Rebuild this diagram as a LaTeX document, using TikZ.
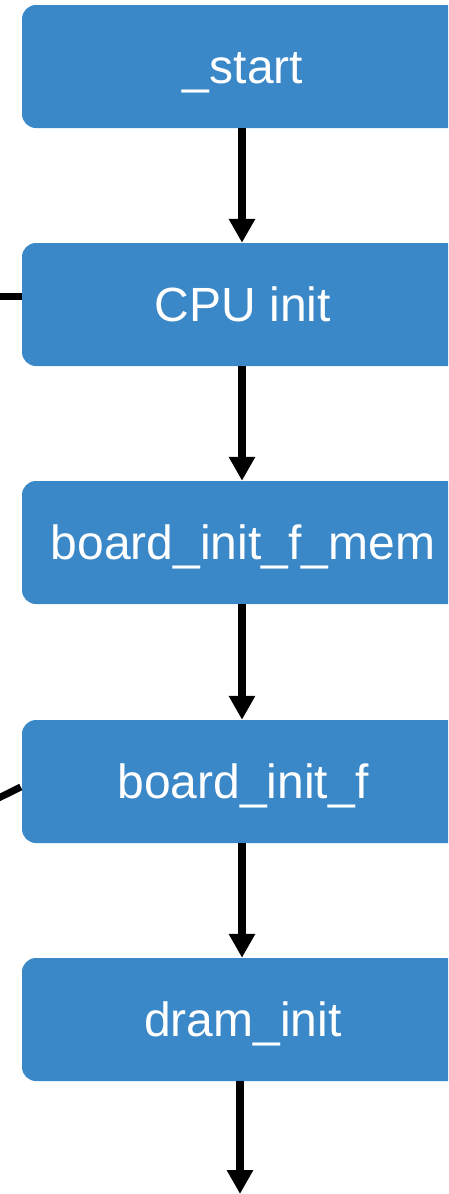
\documentclass[tikz,border=0pt]{standalone}
\usepackage{fontspec}
\setmainfont{Liberation Sans}
\usetikzlibrary{arrows.meta}
\definecolor{boxblue}{RGB}{59,136,200}
\tikzset{
  stagebox/.style={draw=none, fill=boxblue, rounded corners=14pt,
    minimum width=442pt, minimum height=123pt, inner sep=0pt,
    text height=33pt, text depth=0pt,
    text=white, font=\fontsize{48}{48}\selectfont},
  flow/.style={line width=8pt, -{Triangle[width=25pt,length=24pt]}},
  stub/.style={line width=7pt}
}
\begin{document}
\begin{tikzpicture}[x=1pt,y=-1pt]
  \useasboundingbox (0,0) rectangle (448,1194);
  \clip (0,0) rectangle (448,1194);
  % boot stages
  \node[stagebox] (start)   at (243,66.5)   {\_start};
  \node[stagebox] (cpu)     at (243,304.5)  {CPU init};
  \node[stagebox] (mem)     at (243,542.5)  {board\_init\_f\_mem};
  \node[stagebox] (initf)   at (243,781.5)  {board\_init\_f};
  \node[stagebox] (dram)    at (243,1019.5) {dram\_init};
  % continuation below the last stage
  \coordinate (next) at (240,1194);
  % side links leaving to the left
  \coordinate (sideA) at (-60,296);
  \coordinate (sideB) at (-60,827);
  % main flow
  \draw[flow] ([xshift=-1pt]start.south) -- ([xshift=-1pt]cpu.north);
  \draw[flow] ([xshift=-1pt]cpu.south) -- ([xshift=-1pt]mem.north);
  \draw[flow] ([xshift=-1pt]mem.south) -- ([xshift=-1pt]initf.north);
  \draw[flow] ([xshift=-1pt]initf.south) -- ([xshift=-1pt]dram.north);
  \draw[flow] ([xshift=-3pt]dram.south) -- (next);
  % side links
  \draw[stub] ([yshift=8.5pt]cpu.west) -- (sideA);
  \draw[stub] ([xshift=-1pt,yshift=-5.5pt]initf.west) -- (sideB);
\end{tikzpicture}
\end{document}
